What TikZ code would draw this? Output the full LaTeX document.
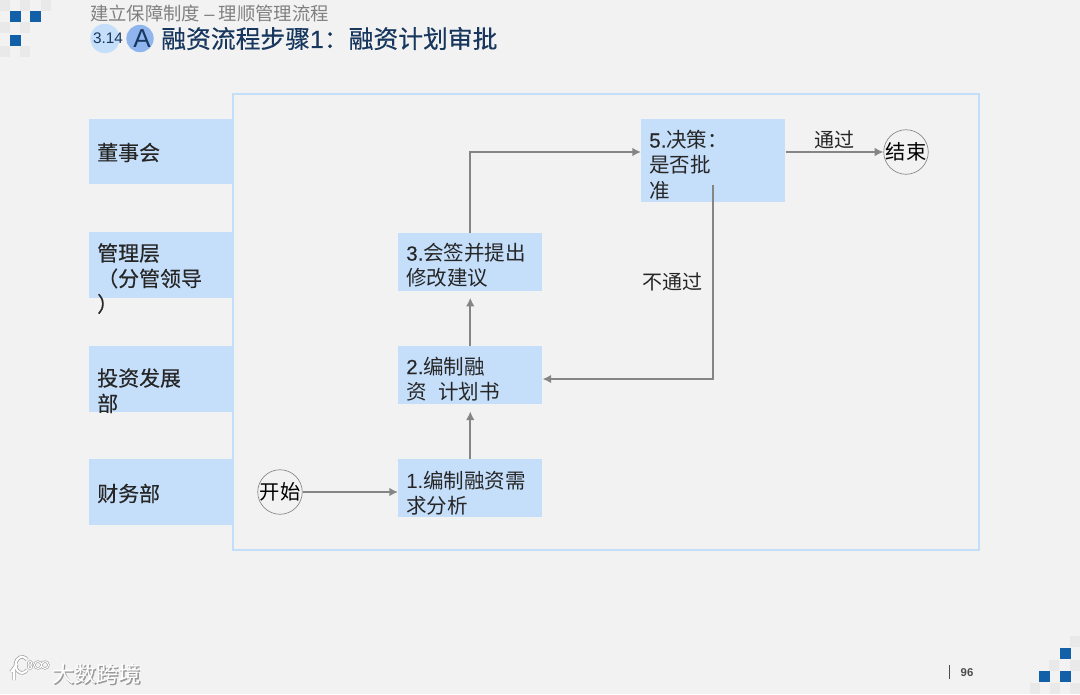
\documentclass[tikz,border=0pt]{standalone}
\usepackage{fontspec}
\setmainfont{Noto Sans CJK SC}[Scale=1]
\newfontfamily\lat{Liberation Sans}
\newfontfamily\md{Noto Sans CJK SC}[FakeBold=0.35]
\newfontfamily\latmd{Liberation Sans}[FakeBold=0.35]
\usetikzlibrary{arrows.meta}
\definecolor{bg}{HTML}{F2F2F2}
\definecolor{lb}{HTML}{C5DEFA}
\definecolor{fr}{HTML}{C3DEF8}
\definecolor{ar}{HTML}{858585}
\definecolor{sq}{HTML}{1260A8}
\definecolor{pale}{HTML}{E9E9E9}
\definecolor{ttl}{HTML}{17375E}
\definecolor{acirc}{HTML}{8FB4EE}
\tikzset{
 x=0.75pt,y=-0.75pt,
 box/.style={fill=lb,inner sep=0pt,minimum width=107.25pt,anchor=north west},
 stepbox/.style={fill=lb,inner sep=0pt,minimum width=108pt,anchor=north west},
 txt/.style={inner sep=0pt,anchor=north west,align=left,font=\fontsize{15.4}{19}\selectfont,text=black!85},
 bd/.style={txt,font=\fontsize{15.7}{19.1}\selectfont\md},
 term/.style={circle,draw=ar,fill=bg,line width=0.5pt,minimum size=32pt,inner sep=0pt,font=\fontsize{15.2}{15}\selectfont},
 conn/.style={draw=ar,line width=1.5pt,-{Latex[length=6.5pt,width=6.5pt]}},
 caption/.style={inner sep=0pt,font=\fontsize{15}{15}\selectfont,text=black!85},
 sq1/.style={fill=sq,draw=none},
 sq2/.style={fill=pale,draw=none}
}
\begin{document}
\begin{tikzpicture}
\useasboundingbox (0,0) rectangle (1080,694);
\fill[bg] (0,0) rectangle (1080,694);
% corner marks
\foreach \a/\b in {0/0,20/0,41/0,0/22,20/22,0/46,20/46}{\fill[sq2] (\a,\b) rectangle +(10,11);}
\foreach \a/\b in {10/11,30/11,10/35}{\fill[sq1] (\a,\b) rectangle +(10.5,11);}
\foreach \a/\b in {1070/636,1070/660,1049/660,1030/683,1050/683,1070/683}{\fill[sq2] (\a,\b) rectangle +(10,11);}
\foreach \a/\b in {1060/648,1039/671,1060/671}{\fill[sq1] (\a,\b) rectangle +(10.5,11);}
% header
\node[inner sep=0pt,anchor=west,text=black!50,font=\fontsize{13.75}{16}\selectfont] (sup) at (90,14) {建立保障制度 {\lat –} 理顺管理流程};
\node[circle,fill=lb,minimum size=22pt,inner sep=0pt] (c1) at (105,38.5) {};
\node[inner sep=0pt,font=\lat\fontsize{11.5}{12}\selectfont,text=ttl] (c1t) at (108,38.5) {3.14};
\node[circle,fill=acirc,minimum size=20.5pt,inner sep=0pt] (c2) at (140,38.5) {};
\node[inner sep=0pt,font=\lat\fontsize{19.5}{20}\selectfont,text=ttl] (c2t) at (142,38.5) {A};
\node[inner sep=0pt,anchor=west,text=ttl,font=\fontsize{18.6}{20}\selectfont\md] (title) at (161,38.5) {融资流程步骤{\latmd 1}：融资计划审批};
% frame
\node[draw=fr,fill=bg,line width=1.6pt,minimum width=559.5pt,minimum height=342pt,inner sep=0pt,anchor=north west] (frame) at (232,93) {};
% lanes
\node[box,minimum height=48.75pt] (l1) at (89,119) {};
\node[box,minimum height=49.5pt] (l2) at (89,232) {};
\node[box,minimum height=49.5pt] (l3) at (89,345.5) {};
\node[box,minimum height=49.5pt] (l4) at (89,459) {};
\node[bd,anchor=west] (t1) at (97,152.5) {董事会};
\node[bd] (t2) at (97,243) {管理层\\（分管领导\\）};
\node[bd] (t3) at (97,368) {投资发展\\部};
\node[bd,anchor=west] (t4) at (97,493.5) {财务部};
% steps
\node[stepbox,minimum height=62.25pt] (s5) at (641,119) {};
\node[stepbox,minimum height=43.5pt] (s3) at (398,232.5) {};
\node[stepbox,minimum height=44pt] (s2) at (398,345.5) {};
\node[stepbox,minimum height=43.5pt] (s1) at (398,459) {};
\node[txt] (t5) at (649,130) {{\latmd 5.}决策：\\是否批\\准};
\node[txt] (t33) at (406,243) {{\latmd 3.}会签并提出\\修改建议};
\node[txt] (t22) at (406,356.5) {{\latmd 2.}编制融\\资{\lat\ \ }计划书};
\node[txt] (t11) at (406,470.5) {{\lat 1.}编制融资需\\求分析};
% terminals
\node[term] (start) at (280,492) {开始};
\node[term] (end) at (906,152) {结束};
% connectors
\coordinate (d5) at (713,185);
\draw[conn] (start) -- (s1.west |- start);
\draw[conn,shorten >=5pt] (s1) -- (s2);
\draw[conn,shorten >=5pt] (s2) -- (s3);
\draw[conn] (s3.north) |- (s5.west |- 0,152);
\draw[conn] (s5.east |- 0,152) -- (end);
\draw[conn] (d5) |- (s2.east |- 0,379);
\node[caption] (pass) at (834.5,140) {通过};
\node[caption] (fail) at (672.5,282) {不通过};
% footer
\draw[black!70,line width=1pt] (949.5,665) -- (949.5,679);
\node[inner sep=0pt,font=\lat\bfseries\fontsize{8.5}{10}\selectfont,text=black!70] (pg) at (967,672.5) {96};
\node[inner sep=0pt,anchor=west,text=black!40,font=\fontsize{16.6}{18}\selectfont\md] (wm0) at (52.8,674.8) {大数跨境};
\node[inner sep=0pt,anchor=west,text=white,font=\fontsize{16.6}{18}\selectfont] (wm) at (52,674) {大数跨境};
\draw[black!40,line width=2.6pt] (17,664) -- (11,672) (14,668) -- (14,680);
\draw[black!40,line width=2.6pt] (27,670) arc (40:320:6.5 and 8);
\draw[black!40,line width=1.6pt] (30,665) ellipse (2 and 4) (38,665) circle (3.5) (45,665) circle (3.5);
\draw[white,line width=1.6pt] (17,664) -- (11,672) (14,668) -- (14,680);
\draw[white,line width=1.6pt] (27,670) arc (40:320:6.5 and 8);
\draw[white,line width=0.8pt] (30,665) ellipse (2 and 4) (38,665) circle (3.5) (45,665) circle (3.5);
\end{tikzpicture}
\end{document}
